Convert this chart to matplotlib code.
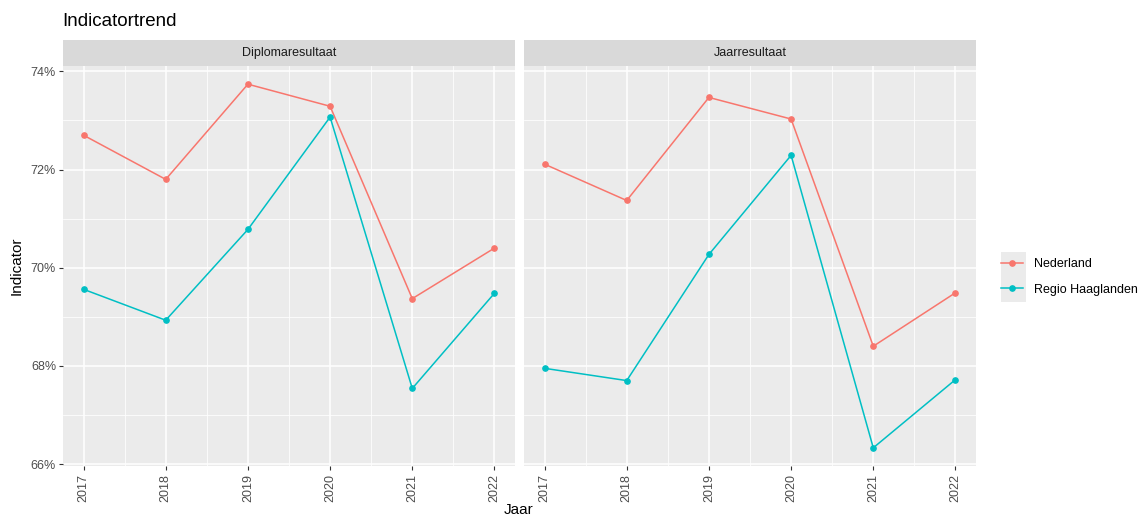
import matplotlib
matplotlib.use("Agg")
import matplotlib.pyplot as plt
from matplotlib.lines import Line2D
from matplotlib.patches import Rectangle

plt.rcParams['font.family'] = ['Liberation Sans', 'DejaVu Sans']

years = [2017, 2018, 2019, 2020, 2021, 2022]
panels = ["Diplomaresultaat", "Jaarresultaat"]
series = ["Nederland", "Regio Haaglanden"]
colors = {"Nederland": "#F8766D", "Regio Haaglanden": "#00BFC4"}

diploma_nl = [72.70, 71.80, 73.74, 73.29, 69.37, 70.40]
diploma_rh = [69.56, 68.93, 70.78, 73.07, 67.54, 69.48]
jaar_nl = [72.11, 71.37, 73.47, 73.03, 68.40, 69.49]
jaar_rh = [67.95, 67.70, 70.27, 72.29, 66.33, 67.72]

data = {
    "Diplomaresultaat": {"Nederland": diploma_nl, "Regio Haaglanden": diploma_rh},
    "Jaarresultaat": {"Nederland": jaar_nl, "Regio Haaglanden": jaar_rh},
}
yticks = [66, 68, 70, 72, 74]
ytick_labels = ["66%", "68%", "70%", "72%", "74%"]

W, H = 1141, 519
fig = plt.figure(figsize=(W / 100, H / 100), dpi=100)
fig.patch.set_facecolor("white")

def fx(px):
    return px / W

def fy(py):
    return 1 - py / H

panel_x = [(63, 515), (524, 976)]
ptop, pbot = 66, 466
strip_top = 40

allv = diploma_nl + diploma_rh + jaar_nl + jaar_rh
lo, hi = min(allv), max(allv)
pad = (hi - lo) * 0.05
ylim = (lo - pad, hi + pad)
xlim = (years[0] - 0.25, years[-1] + 0.25)

for i, (name, (x0, x1)) in enumerate(zip(panels, panel_x)):
    ax = fig.add_axes([fx(x0), fy(pbot), fx(x1 - x0), (pbot - ptop) / H])
    ax.set_facecolor("#EBEBEB")
    ax.set_xlim(*xlim)
    ax.set_ylim(*ylim)
    # minor grid
    for yv in [67, 69, 71, 73]:
        ax.axhline(yv, color="white", lw=0.55, zorder=0)
    for xv in [y + 0.5 for y in years[:-1]]:
        ax.axvline(xv, color="white", lw=0.55, zorder=0)
    for yv in yticks:
        ax.axhline(yv, color="white", lw=1.1, zorder=0)
    for xv in years:
        ax.axvline(xv, color="white", lw=1.1, zorder=0)
    for s in series:
        ax.plot(years, data[name][s], color=colors[s], lw=1.1, marker="o",
                ms=3.8, zorder=3)
    for sp in ax.spines.values():
        sp.set_visible(False)
    ax.set_xticks(years)
    ax.set_xticklabels([str(y) for y in years], rotation=90, fontsize=9,
                       color="#4D4D4D")
    ax.tick_params(axis="x", length=3, width=0.8, color="#333333", pad=2.5)
    ax.set_yticks(yticks)
    if i == 0:
        ax.set_yticklabels(ytick_labels, fontsize=9, color="#4D4D4D")
        ax.tick_params(axis="y", length=3, width=0.8, color="#333333", pad=2)
    else:
        ax.tick_params(axis="y", length=0, labelleft=False)
    # strip
    sax = fig.add_axes([fx(x0), fy(ptop), fx(x1 - x0), (ptop - strip_top) / H])
    sax.set_facecolor("#D9D9D9")
    sax.set_xticks([])
    sax.set_yticks([])
    for sp in sax.spines.values():
        sp.set_visible(False)
    sax.text(0.5, 0.5, name, ha="center", va="center", fontsize=9,
             color="#1A1A1A", transform=sax.transAxes)

fig.text(fx(62), fy(21), "Indicatortrend", fontsize=13.5, ha="left",
         va="center", color="black")
fig.text(fx(17), fy(266), "Indicator", fontsize=11, rotation=90,
         ha="center", va="center", color="black")
fig.text(fx(519), fy(510), "Jaar", fontsize=11, ha="center", va="center",
         color="black")

# legend
handles = [Line2D([0], [0], color=colors[s], lw=1.1, marker="o", ms=3.8)
           for s in series]
leg = fig.legend(handles, series, loc="center left",
                 bbox_to_anchor=(fx(1001), fy(277)), frameon=False,
                 fontsize=9, handlelength=1.75, handletextpad=0.9,
                 labelspacing=1.05, borderaxespad=0, borderpad=0)
# gray key backgrounds
fig.patches.append(Rectangle((fx(1001), fy(302)), fx(25), (302 - 252) / H,
                             transform=fig.transFigure, facecolor="#EBEBEB",
                             edgecolor="none", zorder=-1))

fig.savefig("out.png", dpi=100)
